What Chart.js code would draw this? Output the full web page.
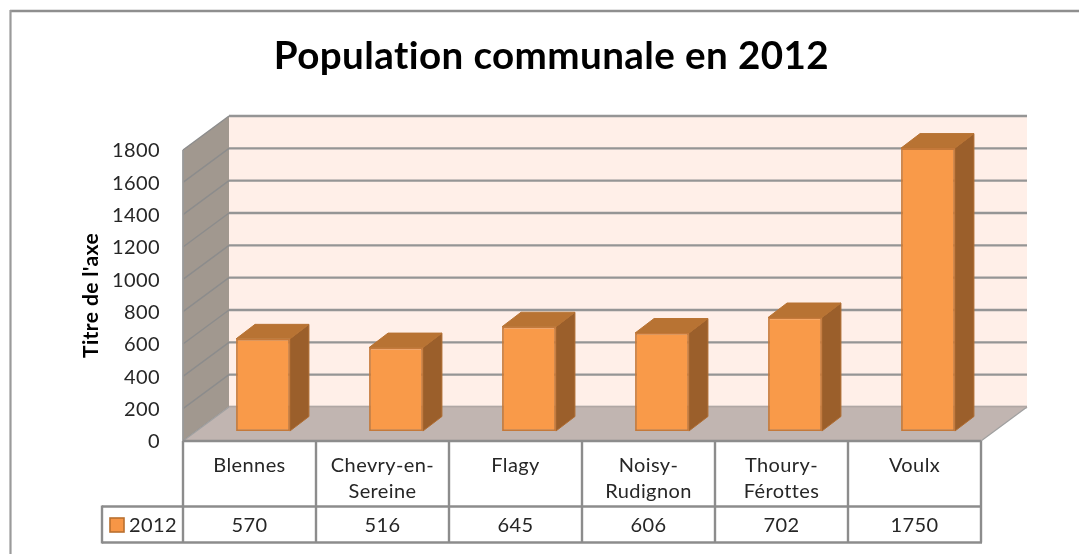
<!DOCTYPE html>
<html><head><meta charset="utf-8">
<style>html,body{margin:0;padding:0;background:#fff}canvas{display:block}</style>
<script src="https://cdn.jsdelivr.net/npm/chart.js@4"></script>
</head><body>
<div style="width:1079px;height:554px"><canvas id="c" width="1079" height="554"></canvas></div>
<script>
const categories = [["Blennes"],["Chevry-en-","Sereine"],["Flagy"],["Noisy-","Rudignon"],["Thoury-","Férottes"],["Voulx"]];
const seriesName = "2012";
const values = [570,516,645,606,702,1750];
const yTitle = "Titre de l'axe";
const chartTitle = "Population communale en 2012";
const FONT = "Lato, Carlito, Calibri, sans-serif";
const LINE = "#8c8c8c", GRID = "#959595";
const DX = 46, DY = -34, BX = 13.5, BY = -10, SX = 19, SY = -14.5;

function poly(ctx, pts, fill, stroke, lw){
  ctx.beginPath();
  pts.forEach((p,i)=> i?ctx.lineTo(p[0],p[1]):ctx.moveTo(p[0],p[1]));
  ctx.closePath();
  if(fill){ctx.fillStyle=fill;ctx.fill();}
  if(stroke){ctx.strokeStyle=stroke;ctx.lineWidth=lw||1;ctx.stroke();}
}
function seg(ctx,x1,y1,x2,y2,col,lw){
  ctx.beginPath();ctx.moveTo(x1,y1);ctx.lineTo(x2,y2);ctx.strokeStyle=col;ctx.lineWidth=lw;ctx.stroke();
}
const scene = {
  id:'scene',
  afterLayout(chart){
    const t = chart.titleBlock;
    t.left = 24; t.right = 1079;
  },
  beforeDraw(chart){
    const ctx = chart.ctx, y = chart.scales.y, a = chart.chartArea;
    ctx.letterSpacing = "0.4px";
    const L=a.left,R=a.right,T=y.getPixelForValue(1800),B=y.getPixelForValue(0);
    ctx.save();
    seg(ctx,10,11,1079,11,"#8f8f8f",2.4);
    seg(ctx,10.5,10,10.5,554,"#9a9a9a",2.2);
    poly(ctx,[[L+DX,T+DY],[R+DX,T+DY],[R+DX,B+DY],[L+DX,B+DY]],"#ffefe8");
    poly(ctx,[[L,T],[L+DX,T+DY],[L+DX,B+DY],[L,B]],"#a1988f");
    poly(ctx,[[L,B],[L+DX,B+DY],[R+DX,B+DY],[R,B]],"#c1b5b1");
    y.ticks.forEach(tk=>{
      const p = y.getPixelForValue(tk.value);
      ctx.beginPath();
      ctx.moveTo(L,p);ctx.lineTo(L+DX,p+DY);
      ctx.strokeStyle="#8c8c8c";ctx.lineWidth=1.4;ctx.stroke();
      seg(ctx,L+DX,p+DY,R+DX,p+DY,GRID,2.4);
    });
    seg(ctx,L,T,L,B,"#999",1.8);
    poly(ctx,[[L+DX,B+DY-0.5],[R+DX,B+DY-0.5],[R,B],[L,B]],"#c1b5b1");
    seg(ctx,L,B,L+DX,B+DY,"#a0a0a0",1.2);
    seg(ctx,R,B,R+DX,B+DY,"#a0a0a0",1.2);
    seg(ctx,L+DX,B+DY,R+DX,B+DY,"#b5aaa6",1.2);
    ctx.restore();
  },
  beforeDatasetDraw(chart,args){
    const ctx = chart.ctx;
    ctx.save();
    ctx.translate(BX,BY);
    args.meta.data.forEach(el=>{
      const l=el.x-el.width/2,r=el.x+el.width/2,t=el.y,b=el.base;
      poly(ctx,[[r,t],[r+SX,t+SY],[r+SX,b+SY],[r,b]],"#9b5f2b","#b06d33",1);
      poly(ctx,[[l,t],[l+SX,t+SY],[r+SX,t+SY],[r,t]],"#b87333","#b87333",1);
    });
  },
  afterDatasetDraw(chart){ chart.ctx.restore(); },
  afterDraw(chart){
    const ctx = chart.ctx, a = chart.chartArea, x = chart.scales.x;
    const L=a.left,R=a.right,B=a.bottom;
    const rowTop=506.5,rowBot=542.5,legL=102;
    const n=categories.length, w=(R-L)/n;
    ctx.save();
    seg(ctx,L,B,R,B,LINE,2.4);
    for(let i=0;i<=n;i++) seg(ctx,L+i*w,B,L+i*w,rowBot,LINE,2.4);
    seg(ctx,legL,rowTop,R+1,rowTop,LINE,2.4);
    seg(ctx,legL,rowBot,R+1,rowBot,LINE,2.4);
    seg(ctx,legL,rowTop-1,legL,rowBot+1,LINE,2.4);
    ctx.fillStyle="#262626";
    ctx.font="20px "+FONT;
    ctx.textAlign="center";ctx.textBaseline="middle";
    values.forEach((v,i)=>ctx.fillText(String(v),x.getPixelForTick(i),526));
    ctx.textAlign="left";
    ctx.fillText(seriesName,129,526);
    ctx.fillStyle="#f79646";ctx.strokeStyle="#b9702f";ctx.lineWidth=1.6;
    ctx.fillRect(110,518,14,14);ctx.strokeRect(110,518,14,14);
    ctx.restore();
  }
};
new Chart(document.getElementById('c'),{
  type:'bar',
  data:{labels:categories,datasets:[{label:seriesName,data:values,backgroundColor:"#f99a49",borderColor:"#c5793a",borderWidth:1.8,borderSkipped:false,barPercentage:0.405,categoryPercentage:1}]},
  plugins:[scene],
  options:{
    responsive:false,animation:false,
    layout:{padding:{left:0,top:0,right:98,bottom:0}},
    plugins:{
      legend:{display:false},tooltip:{enabled:false},
      title:{display:true,text:chartTitle,color:"#000",font:{family:FONT,size:38.6,weight:'bold',lineHeight:1.2},padding:{top:33,bottom:150-33-46.32}}
    },
    scales:{
      x:{
        grid:{display:false},border:{display:false},
        afterFit:s=>{s.height=113;},
        ticks:{color:"#262626",font:{family:FONT,size:20,lineHeight:26/20},padding:4,maxRotation:0,minRotation:0,autoSkip:false}
      },
      y:{
        min:0,max:1800,
        grid:{display:false},border:{display:false},
        afterFit:s=>{s.width=183;},
        ticks:{stepSize:200,color:"#262626",font:{family:FONT,size:20},padding:15,labelOffset:1,callback:v=>String(v)},
        title:{display:true,text:yTitle,color:"#000",font:{family:FONT,size:21,weight:'bold',lineHeight:1.2},padding:{top:79,bottom:0}}
      }
    }
  }
});
</script>
</body></html>
